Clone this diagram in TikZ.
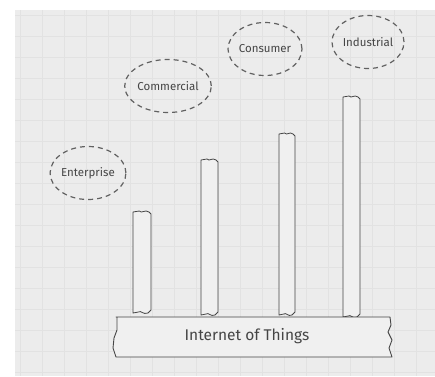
\documentclass[tikz,border=0pt]{standalone}
\usepackage{fontspec}
\setmainfont{Fira Sans}
\usetikzlibrary{shapes.geometric}
\definecolor{paper}{HTML}{ECECEC}
\definecolor{gridc}{HTML}{E2E2E2}
\definecolor{ink}{HTML}{454545}
\definecolor{pillarfill}{HTML}{F0F0F0}
% one pillar with torn top and bottom edges: left x, right x, top y, bottom y
\newcommand\pillarshape[4]{%
  \draw[pillar]
    (#1,#4) -- (#1,#3+1)
    -- ({#1+0.35*(#2-#1)},#3)
    .. controls ({#1+0.5*(#2-#1)},#3+3) and ({#1+0.65*(#2-#1)},#3-2) .. (#2-2,#3+1)
    -- (#2,#3+3) -- (#2,#4-3)
    -- (#2-3,#4)
    .. controls ({#1+0.55*(#2-#1)},#4+2) and ({#1+0.45*(#2-#1)},#4-3) .. ({#1+0.3*(#2-#1)},#4-1)
    -- cycle;}
\begin{document}
\begin{tikzpicture}[x=1pt,y=-1pt,
  bubble/.style={ellipse, draw=ink!85, dashed, dash pattern=on 5pt off 4pt,
    line width=1.2pt, minimum width=72pt, minimum height=53pt, inner sep=0pt,
    text=ink, font=\fontsize{11.5}{12}\selectfont},
  pillar/.style={draw=ink, line width=0.8pt, fill=pillarfill, line join=round},
  slab/.style={draw=ink, line width=0.9pt, fill=pillarfill, line join=round},
  gridline/.style={gridc, line width=0.6pt}]
\useasboundingbox (0,0) rectangle (435,376);
\fill[white] (0,0) rectangle (435,376);
\fill[paper] (15,10) rectangle (435,376);
% squared paper
\foreach \gy in {15,36,...,376} \draw[gridline] (15,\gy) -- (435,\gy);
\foreach \gx in {20,42,...,435} \draw[gridline] (\gx,10) -- (\gx,376);

% pillars
\pillarshape{133}{151}{211}{313}
\pillarshape{201}{218}{159}{315}
\pillarshape{279}{295}{133}{315}
\pillarshape{343}{360}{96}{317}

% base slab with torn ends
\draw[slab]
  (116,317) -- (390,317)
  -- (391,325) -- (388,332) -- (392,340) -- (389,348) -- (392,357)
  -- (116,357)
  -- (113,348) -- (114,338) -- (117,330) -- (117,317) -- cycle;
\node[text=ink, font=\fontsize{15.5}{16}\selectfont] (iot) at (247,336) {Internet of Things};

% market bubbles
\node[bubble] (enterprise) at (88,173) {Enterprise};
\node[bubble] (commercial) at (168,86) {Commercial};
\node[bubble] (consumer) at (265,49) {Consumer};
\node[bubble] (industrial) at (368,42) {Industrial};
\end{tikzpicture}
\end{document}
